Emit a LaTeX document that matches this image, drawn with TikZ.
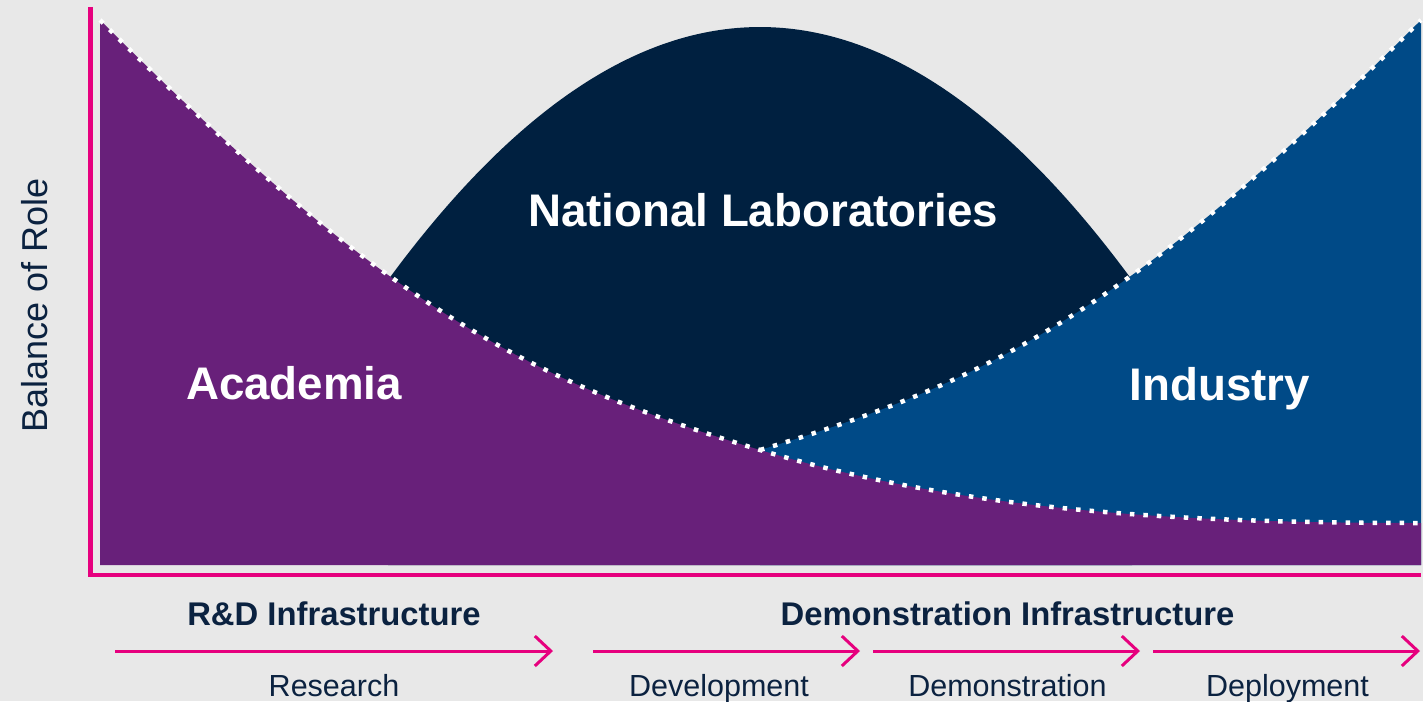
\documentclass[tikz,border=0pt]{standalone}
\usepackage{fontspec}
\setmainfont{Liberation Sans}
\usetikzlibrary{arrows.meta}
\definecolor{bggray}{HTML}{E8E8E8}
\definecolor{labnavy}{HTML}{002040}
\definecolor{indblue}{HTML}{004A87}
\definecolor{acpurple}{HTML}{68207A}
\definecolor{mag}{HTML}{E6007E}
\definecolor{txtnavy}{HTML}{0B2240}
\begin{document}
\begin{tikzpicture}[x=1pt,y=-1pt,
  dotline/.style={white, line width=4.5pt, dash pattern=on 4.5pt off 9pt},
  axisline/.style={mag, line width=4.8pt, line join=miter},
  phasearrow/.style={mag, line width=3pt, -{Straight Barb[length=16pt,width=30pt]}},
  biglab/.style={white, inner sep=0pt, anchor=base, font=\fontsize{45.7}{50}\selectfont\bfseries},
  headlab/.style={txtnavy, inner sep=0pt, anchor=base, font=\fontsize{32.8}{36}\selectfont\bfseries},
  phaselab/.style={txtnavy, inner sep=0pt, anchor=base, font=\fontsize{30.5}{34}\selectfont},
  axislab/.style={txtnavy, inner sep=0pt, anchor=base, rotate=90, font=\fontsize{36}{40}\selectfont}]
\useasboundingbox (0,0) rectangle (1423,701);
\fill[bggray] (0,0) rectangle (1423,701);
% National Laboratories bell
\fill[labnavy] (388,280) .. controls (636,-57.3) and (884,-57.3) .. (1132,280) -- (1132,565) -- (388,565) -- cycle;
% Industry
\fill[indblue] (760,450) .. controls (1000,378) and (1135,305) .. (1421,20) -- (1421,565) -- (760,565) -- cycle;
% Academia
\fill[acpurple] (100,565) -- (100,20) .. controls (385,305) and (520,378) .. (760,450) .. controls (960,510) and (1171,523) .. (1421,523) -- (1421,565) -- cycle;
% dotted boundaries
\draw[dotline] (100,20) .. controls (385,305) and (520,378) .. (760,450) .. controls (960,510) and (1171,523) .. (1421,523);
\draw[dotline] (760,450) .. controls (1000,378) and (1135,305) .. (1421,20);
% axes
\coordinate (axtop) at (90.5,7);
\coordinate (axorigin) at (90.5,575);
\coordinate (axright) at (1421,575);
\draw[axisline] (axtop) -- (axorigin) -- (axright);
% region labels
\node[biglab] (natlab) at (763,226.5) {National Laboratories};
\node[biglab] (acad) at (294,399) {Academia};
\node[biglab] (indus) at (1220,400) {Industry};
\node[axislab] (balance) at (47,305.5) {Balance of Role};
% headers
\node[headlab] (rdinfra) at (334,625) {R\&D Infrastructure};
\node[headlab] (deminfra) at (1007.5,625) {Demonstration Infrastructure};
% phase arrows
\coordinate (r0) at (115,651); \coordinate (r1) at (553,651);
\coordinate (d0) at (593,651); \coordinate (d1) at (860,651);
\coordinate (m0) at (873,651); \coordinate (m1) at (1140,651);
\coordinate (p0) at (1153,651); \coordinate (p1) at (1420,651);
\draw[phasearrow] (r0) -- (r1);
\draw[phasearrow] (d0) -- (d1);
\draw[phasearrow] (m0) -- (m1);
\draw[phasearrow] (p0) -- (p1);
% phase labels
\node[phaselab] (research) at (334,696) {Research};
\node[phaselab] (develop) at (719,696) {Development};
\node[phaselab] (demo) at (1007.5,696) {Demonstration};
\node[phaselab] (deploy) at (1287.5,696) {Deployment};
\end{tikzpicture}
\end{document}
